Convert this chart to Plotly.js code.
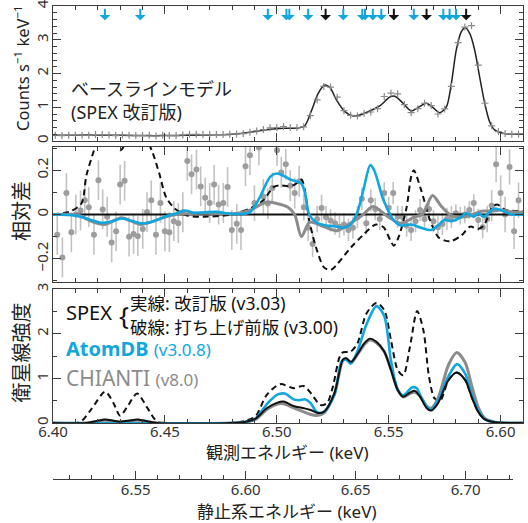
<!DOCTYPE html>
<html><head><meta charset="utf-8">
<script src="https://cdn.plot.ly/plotly-3.0.1.min.js"></script>
<style>html,body{margin:0;padding:0;background:#fff}#chart{width:528px;height:523px}</style>
</head><body><div id="chart"></div>
<script>
// ---------- DATA ----------
const redshift = 0.01756;
const obsTicks = [6.40, 6.45, 6.50, 6.55, 6.60];
const restTicks = [6.55, 6.60, 6.65, 6.70];

// Top panel: baseline model (SPEX revised)
const modelE = [6.400,6.410,6.420,6.430,6.440,6.450,6.460,6.470,6.480,6.490,6.497,6.503,6.510,6.5125,6.5155,6.5184,6.5214,6.5237,6.5267,6.5304,6.5341,6.5371,6.5415,6.5460,6.5504,6.5527,6.5564,6.5601,6.5638,6.5668,6.5698,6.5728,6.5758,6.5780,6.5802,6.5824,6.5842,6.5862,6.5884,6.5906,6.5929,6.5951,6.5973,6.6010,6.6050,6.6100];
const modelC = [0.17,0.17,0.18,0.17,0.16,0.16,0.17,0.18,0.20,0.28,0.35,0.38,0.39,0.45,0.90,1.40,1.66,1.59,1.21,0.87,0.74,0.77,0.89,1.04,1.30,1.33,1.12,0.89,1.02,1.12,0.99,0.84,1.02,1.71,2.70,3.24,3.36,3.19,2.70,1.91,1.12,0.57,0.33,0.23,0.20,0.20];
const dataE = [6.401,6.404,6.407,6.410,6.413,6.416,6.419,6.422,6.425,6.428,6.431,6.434,6.437,6.440,6.443,6.446,6.449,6.452,6.455,6.458,6.461,6.464,6.467,6.470,6.473,6.476,6.479,6.482,6.485,6.488,6.491,6.494,6.497,6.500,6.503,6.506,6.509,6.512,6.515,6.518,6.521,6.524,6.527,6.530,6.533,6.536,6.539,6.542,6.545,6.548,6.551,6.554,6.557,6.560,6.563,6.566,6.569,6.572,6.575,6.578,6.581,6.584,6.587,6.590,6.593,6.596,6.599,6.602,6.605,6.608];
const dataC = [0.17,0.16,0.17,0.17,0.17,0.17,0.19,0.19,0.18,0.16,0.18,0.17,0.16,0.16,0.17,0.15,0.17,0.16,0.16,0.18,0.20,0.20,0.19,0.19,0.19,0.19,0.20,0.21,0.22,0.26,0.30,0.34,0.39,0.40,0.43,0.40,0.40,0.42,0.75,1.22,1.62,1.60,1.30,0.90,0.76,0.74,0.82,0.86,0.96,1.32,1.42,1.40,1.08,0.84,0.96,1.12,1.05,0.80,0.95,1.62,2.92,3.38,3.42,2.25,1.12,0.45,0.28,0.22,0.20,0.21];

// Line positions (arrows)
const lineE_atomdb = [6.4232,6.4390,6.4960,6.5043,6.5056,6.5140,6.5297,6.5382,6.5394,6.5429,6.5467,6.5612,6.5744,6.5772,6.5801];
const lineE_spex = [6.5218,6.5523,6.5669,6.5846];

// Middle panel: relative residuals
const residE = [6.4019,6.4042,6.4060,6.4082,6.4102,6.4123,6.4142,6.4160,6.4183,6.4203,6.4222,6.4242,6.4262,6.4282,6.4300,6.4320,6.4340,6.4360,6.4379,6.4401,6.4420,6.4439,6.4460,6.4480,6.4500,6.4520,6.4540,6.4560,6.4580,6.4600,6.4619,6.4641,6.4660,6.4680,6.4700,6.4720,6.4740,6.4761,6.4780,6.4799,6.4821,6.4840,6.4860,6.4880,6.4900,6.4920,6.4940,6.4960,6.4980,6.5001,6.5020,6.5040,6.5060,6.5080,6.5100,6.5121,6.5140,6.5160,6.5180,6.5200,6.5220,6.5240,6.5260,6.5280,6.5300,6.5320,6.5340,6.5360,6.5380,6.5400,6.5420,6.5440,6.5460,6.5480,6.5500,6.5520,6.5540,6.5560,6.5580,6.5600,6.5620,6.5640,6.5660,6.5680,6.5700,6.5720,6.5740,6.5760,6.5780,6.5800,6.5820,6.5840,6.5860,6.5880,6.5900,6.5920,6.5940,6.5960,6.5980,6.6000,6.6020,6.6040,6.6060,6.6080];
const residV = [-0.092,-0.194,0.097,-0.080,0.000,0.018,0.064,0.033,-0.092,0.155,0.023,-0.010,-0.126,-0.076,0.135,0.152,-0.100,-0.088,-0.098,-0.065,0.011,0.064,-0.092,0.052,-0.076,-0.080,-0.030,-0.039,0.010,0.242,0.182,0.203,0.127,0.076,0.052,0.135,0.045,0.052,0.124,-0.070,-0.042,-0.070,0.218,0.268,0.052,0.303,0.080,0.050,0.120,0.290,0.190,0.227,0.130,0.097,0.150,0.033,-0.060,-0.133,-0.020,0.029,-0.012,-0.027,-0.040,-0.055,-0.045,-0.070,-0.060,-0.012,0.071,-0.040,0.064,0.025,-0.020,0.097,0.030,0.097,-0.010,-0.010,-0.050,-0.070,-0.030,0.020,-0.020,0.025,-0.030,-0.058,-0.043,-0.020,-0.012,0.006,-0.005,0.000,0.020,0.052,-0.025,-0.058,-0.020,0.040,0.227,0.097,0.000,0.215,-0.076,0.064];
const residErr = [0.09,0.09,0.09,0.09,0.09,0.09,0.09,0.09,0.09,0.09,0.09,0.09,0.09,0.09,0.09,0.09,0.09,0.09,0.09,0.09,0.09,0.09,0.09,0.09,0.09,0.09,0.09,0.09,0.09,0.09,0.09,0.09,0.09,0.09,0.09,0.09,0.09,0.09,0.09,0.09,0.09,0.09,0.09,0.09,0.08,0.08,0.08,0.07,0.07,0.07,0.07,0.07,0.07,0.07,0.07,0.06,0.06,0.06,0.06,0.06,0.05,0.05,0.05,0.05,0.05,0.05,0.05,0.05,0.05,0.05,0.05,0.05,0.05,0.05,0.05,0.05,0.05,0.05,0.05,0.05,0.05,0.05,0.05,0.05,0.05,0.05,0.05,0.05,0.05,0.04,0.04,0.04,0.04,0.04,0.05,0.05,0.06,0.07,0.08,0.08,0.08,0.08,0.08,0.08];

const resSpexNewE = [6.40, 6.61];
const resSpexNewV = [0, 0];
const resAtomE = [6.400,6.410,6.4155,6.4215,6.426,6.4305,6.435,6.440,6.445,6.450,6.455,6.459,6.463,6.468,6.473,6.480,6.488,6.4925,6.497,6.500,6.503,6.506,6.5085,6.511,6.5125,6.5145,6.5175,6.522,6.527,6.530,6.533,6.536,6.539,6.5417,6.5435,6.5477,6.5523,6.5553,6.560,6.5645,6.569,6.572,6.575,6.578,6.5823,6.5845,6.588,6.590,6.5925,6.597,6.600,6.605,6.610];
const resAtomV = [0,-0.005,-0.02,-0.038,-0.032,-0.018,-0.028,-0.04,-0.03,-0.01,0.005,0.018,0.008,0.01,0.012,0.003,0.01,0.08,0.17,0.185,0.175,0.158,0.15,0.14,0.10,0.0,-0.035,-0.05,-0.055,-0.06,-0.045,0.01,0.124,0.223,0.2,0.064,-0.027,-0.05,-0.045,-0.06,-0.07,-0.05,-0.024,-0.03,-0.012,0.006,-0.01,0.005,-0.01,0.026,0.02,0,0];
const resChiE = [6.400,6.4115,6.417,6.423,6.4305,6.435,6.439,6.445,6.450,6.455,6.462,6.472,6.482,6.488,6.4955,6.500,6.505,6.508,6.511,6.5147,6.521,6.527,6.5335,6.538,6.543,6.549,6.5555,6.5613,6.565,6.5696,6.5733,6.578,6.5845,6.5915,6.596,6.600,6.605,6.610];
const resChiV = [0,-0.003,-0.03,-0.045,-0.015,-0.03,-0.045,-0.03,-0.012,0.0,0.005,0.005,0.005,0.02,0.056,0.05,0.033,0.0,-0.1,-0.035,-0.055,-0.073,-0.035,-0.005,0.036,-0.005,-0.04,-0.012,0.0,0.086,0.04,-0.005,-0.01,0.015,0.015,0.02,0.012,0.01];
const resSpexOldE = [6.400,6.408,6.4127,6.415,6.4183,6.421,6.4235,6.427,6.4302,6.434,6.438,6.441,6.4445,6.4475,6.4505,6.4545,6.460,6.467,6.480,6.4877,6.494,6.4985,6.5015,6.505,6.508,6.511,6.5125,6.5145,6.5175,6.5212,6.5242,6.527,6.5332,6.539,6.5432,6.5445,6.5477,6.5508,6.5523,6.5545,6.558,6.560,6.5612,6.5645,6.5685,6.5722,6.5752,6.578,6.5825,6.5863,6.590,6.5925,6.5962,6.5985,6.6022,6.610];
const resSpexOldV = [0,0.015,0.05,0.18,0.29,0.38,0.42,0.36,0.29,0.36,0.42,0.36,0.28,0.185,0.079,0.026,-0.005,-0.01,0,0.026,0.064,0.124,0.132,0.128,0.135,0.158,0.11,-0.027,-0.148,-0.24,-0.25,-0.224,-0.148,-0.088,-0.05,-0.045,-0.058,-0.118,-0.141,-0.1,0.033,0.17,0.2,0.11,-0.027,-0.103,-0.118,-0.12,-0.095,-0.055,-0.065,-0.05,0.033,0.045,0.021,0.015];

// Bottom panel: satellite line intensity
const satSpexNewE = [6.400,6.415,6.419,6.4233,6.427,6.430,6.434,6.4376,6.442,6.4465,6.480,6.486,6.4905,6.4955,6.500,6.503,6.5075,6.5122,6.5152,6.518,6.521,6.5257,6.5295,6.531,6.5332,6.5362,6.539,6.5415,6.5445,6.548,6.551,6.554,6.5565,6.5595,6.5617,6.564,6.567,6.569,6.572,6.5767,6.5804,6.5842,6.587,6.590,6.593,6.5975,6.610];
const satSpexNewV = [0,0.0,0.04,0.08,0.05,0.03,0.05,0.08,0.04,0.0,0.0,0.03,0.1,0.33,0.45,0.48,0.38,0.33,0.29,0.23,0.25,0.66,1.42,1.45,1.37,1.56,1.78,1.89,1.82,1.6,1.19,0.74,0.59,0.68,0.72,0.59,0.33,0.28,0.44,0.96,1.13,0.96,0.59,0.25,0.08,0.015,0];
const satChiE = [6.400,6.415,6.4233,6.430,6.4376,6.4465,6.480,6.486,6.4905,6.4955,6.500,6.503,6.507,6.512,6.5152,6.518,6.521,6.5257,6.5295,6.531,6.5332,6.5362,6.539,6.5415,6.5445,6.548,6.551,6.554,6.5565,6.5595,6.5617,6.564,6.567,6.569,6.572,6.5767,6.5804,6.5842,6.587,6.590,6.593,6.5975,6.610];
const satChiV = [0,0,0.06,0.02,0.06,0,0,0.02,0.08,0.3,0.42,0.43,0.35,0.25,0.19,0.17,0.22,0.65,1.40,1.44,1.35,1.55,1.75,1.86,1.80,1.6,1.2,0.75,0.58,0.66,0.69,0.6,0.38,0.33,0.55,1.3,1.58,1.35,0.85,0.35,0.1,0.02,0];
const satAtomE = [6.400,6.480,6.486,6.4905,6.4955,6.500,6.5035,6.5075,6.510,6.5125,6.515,6.518,6.521,6.5257,6.529,6.531,6.533,6.536,6.540,6.5445,6.548,6.551,6.554,6.5565,6.5605,6.5625,6.564,6.567,6.569,6.572,6.5767,6.5805,6.5842,6.587,6.590,6.593,6.5975,6.610];
const satAtomV = [0,0,0.02,0.1,0.42,0.63,0.66,0.53,0.51,0.53,0.45,0.24,0.25,0.62,1.38,1.42,1.33,1.6,2.2,2.62,2.4,1.4,0.75,0.62,0.8,0.78,0.63,0.36,0.3,0.5,1.05,1.32,1.1,0.66,0.28,0.08,0.015,0];
const satSpexOldE = [6.400,6.412,6.417,6.4233,6.427,6.430,6.433,6.4376,6.442,6.4465,6.450,6.480,6.486,6.4905,6.4955,6.5015,6.5075,6.512,6.5155,6.5196,6.5225,6.525,6.529,6.533,6.536,6.540,6.5445,6.548,6.551,6.554,6.5565,6.5595,6.5627,6.5655,6.568,6.5705,6.573,6.5767,6.5804,6.5842,6.587,6.590,6.593,6.5975,6.610];
const satSpexOldV = [0,0.02,0.3,0.7,0.45,0.16,0.35,0.66,0.35,0.03,0,0,0.05,0.15,0.63,0.87,0.78,0.83,0.65,0.4,0.45,0.8,1.57,1.6,1.78,2.45,2.69,2.53,1.86,1.19,1.07,1.71,2.51,2.08,1.04,0.55,0.5,0.96,1.13,0.96,0.59,0.25,0.08,0.015,0];

// ---------- STYLE ----------
const FONT = 'Noto Sans, Noto Sans CJK JP, sans-serif';
const AX = '#3c3c3c';
const CYAN = '#11a6de';
const GRAY = '#8c8c8c';
const X0 = 6.40, X1 = 6.61;
const restFrac = 0.979;

const traces = [
  {x: modelE, y: modelC, xaxis:'x', yaxis:'y', mode:'lines', line:{color:'#222', width:1.5, shape:'spline', smoothing:0.8}, hoverinfo:'skip'},
  {x: dataE, y: dataC, xaxis:'x', yaxis:'y', mode:'markers', marker:{symbol:'cross-thin', size:5, line:{width:1.2, color:'#8a8a8a'}, color:'#8a8a8a'}, hoverinfo:'skip'},
  {x: residE, y: residV, xaxis:'x2', yaxis:'y2', mode:'markers', marker:{size:6, color:'#9d9d9d'}, error_y:{type:'data', array: residErr, color:'#c2c2c2', thickness:1.6, width:0}, hoverinfo:'skip'},
  {x: resSpexNewE, y: resSpexNewV, xaxis:'x2', yaxis:'y2', mode:'lines', line:{color:'#111', width:2}, hoverinfo:'skip'},
  {x: resSpexOldE, y: resSpexOldV, xaxis:'x2', yaxis:'y2', mode:'lines', line:{color:'#111', width:2, dash:'6px,4px', shape:'spline', smoothing:0.8}, hoverinfo:'skip'},
  {x: resChiE, y: resChiV, xaxis:'x2', yaxis:'y2', mode:'lines', line:{color:GRAY, width:3, shape:'spline', smoothing:0.8}, hoverinfo:'skip'},
  {x: resAtomE, y: resAtomV, xaxis:'x2', yaxis:'y2', mode:'lines', line:{color:CYAN, width:2.6, shape:'spline', smoothing:0.8}, hoverinfo:'skip'},
  {x: satSpexOldE, y: satSpexOldV, xaxis:'x3', yaxis:'y3', mode:'lines', line:{color:'#111', width:2, dash:'6px,4px', shape:'spline', smoothing:0.8}, hoverinfo:'skip'},
  {x: satChiE, y: satChiV, xaxis:'x3', yaxis:'y3', mode:'lines', line:{color:GRAY, width:3, shape:'spline', smoothing:0.8}, hoverinfo:'skip'},
  {x: satAtomE, y: satAtomV, xaxis:'x3', yaxis:'y3', mode:'lines', line:{color:CYAN, width:2.6, shape:'spline', smoothing:0.8}, hoverinfo:'skip'},
  {x: satSpexNewE, y: satSpexNewV, xaxis:'x3', yaxis:'y3', mode:'lines', line:{color:'#111', width:2, shape:'spline', smoothing:0.8}, hoverinfo:'skip'},
  {x: [], y: [], xaxis:'x4', yaxis:'y4', mode:'lines', hoverinfo:'skip'}
];

function xax(anchor, labels, extra) {
  return Object.assign({
    anchor: anchor, range:[X0, X1], showline:true, linecolor:AX, linewidth:1, mirror:'ticks',
    ticks:'inside', ticklen:8, tickwidth:1, tickcolor:AX, tick0:6.40, dtick:0.05,
    minor:{dtick:0.01, ticks:'inside', ticklen:4, tickwidth:1, tickcolor:AX},
    showgrid:false, zeroline:false, showticklabels:labels, tickformat:'.2f', ticklabeloverflow:'allow',
    tickfont:{family:FONT, size:15, color:'#333'}
  }, extra || {});
}
function yax(anchor, domain, range, dtick, mdtick, extra) {
  return Object.assign({
    anchor: anchor, domain: domain, range: range, showline:true, linecolor:AX, linewidth:1, mirror:'ticks',
    ticks:'inside', ticklen:8, tickwidth:1, tickcolor:AX, dtick:dtick, tick0:0,
    minor:{dtick:mdtick, ticks:'inside', ticklen:4, tickwidth:1, tickcolor:AX},
    showgrid:false, zeroline:false, tickangle:-90, ticklabelstandoff:-2, ticklabeloverflow:'allow',
    tickfont:{family:FONT, size:15, color:'#333'}
  }, extra || {});
}

const annotations = [];
lineE_atomdb.forEach(e => annotations.push({x:e, y:3.58, xref:'x', yref:'y', text:'', showarrow:true, ax:0, ay:-13, arrowhead:1, arrowsize:0.9, arrowwidth:2, arrowcolor:CYAN}));
lineE_spex.forEach(e => annotations.push({x:e, y:3.58, xref:'x', yref:'y', text:'', showarrow:true, ax:0, ay:-13, arrowhead:1, arrowsize:0.9, arrowwidth:2, arrowcolor:'#111'}));
annotations.push(
  {x:-0.066, y:0.869, xref:'paper', yref:'paper', xanchor:'center', yanchor:'middle', textangle:-90, showarrow:false,
   text:'Counts s<sup>−1</sup> keV<sup>−1</sup>', font:{family:FONT, size:16.5, color:'#222'}},
  {x:-0.066, y:0.5666, xref:'paper', yref:'paper', xanchor:'center', yanchor:'middle', textangle:-90, showarrow:false,
   text:'相対差', font:{family:FONT, size:20, color:'#222'}},
  {x:-0.066, y:0.2674, xref:'paper', yref:'paper', xanchor:'center', yanchor:'middle', textangle:-90, showarrow:false,
   text:'衛星線強度', font:{family:FONT, size:20, color:'#222'}},
  {x:0.498, y:0.055, xref:'paper', yref:'paper', xanchor:'center', yanchor:'middle', showarrow:false,
   text:'観測エネルギー (keV)', font:{family:FONT, size:17, color:'#222'}},
  {x:0.498, y:-0.068, xref:'paper', yref:'paper', xanchor:'center', yanchor:'middle', showarrow:false,
   text:'静止系エネルギー (keV)', font:{family:FONT, size:17, color:'#222'}},
  {x:6.4071, y:1.21, xref:'x', yref:'y', xanchor:'left', yanchor:'middle', align:'left', showarrow:false,
   text:'ベースラインモデル<br>(SPEX 改訂版)', font:{family:FONT, size:18, color:'#222'}},
  {x:6.4049, y:2.48, xref:'x3', yref:'y3', xanchor:'left', yanchor:'middle', showarrow:false,
   text:'SPEX', font:{family:FONT, size:20, color:'#111'}},
  {x:6.4286, y:2.43, xref:'x3', yref:'y3', xanchor:'left', yanchor:'middle', showarrow:false,
   text:'{', font:{family:FONT, size:26, color:'#111'}},
  {x:6.4335, y:2.68, xref:'x3', yref:'y3', xanchor:'left', yanchor:'middle', showarrow:false,
   text:'実線: 改訂版 (v3.03)', font:{family:FONT, size:17.5, color:'#111'}},
  {x:6.4335, y:2.15, xref:'x3', yref:'y3', xanchor:'left', yanchor:'middle', showarrow:false,
   text:'破線: 打ち上げ前版 (v3.00)', font:{family:FONT, size:17.5, color:'#111'}},
  {x:6.4049, y:1.68, xref:'x3', yref:'y3', xanchor:'left', yanchor:'middle', showarrow:false,
   text:'<b>AtomDB</b> <span style="font-size:17px">(v3.0.8)</span>', font:{family:FONT, size:20, color:CYAN}},
  {x:6.4049, y:1.0, xref:'x3', yref:'y3', xanchor:'left', yanchor:'middle', showarrow:false,
   text:'CHIANTI <span style="font-size:17px">(v8.0)</span>', font:{family:FONT, size:21, color:GRAY}}
);

const z1 = 1 + redshift;
const layout = {
  width:528, height:523, margin:{l:53, r:5, t:6, b:44},
  paper_bgcolor:'#fff', plot_bgcolor:'#fff', showlegend:false,
  font:{family:FONT, color:'#222'},
  xaxis: xax('y', false),
  xaxis2: xax('y2', false),
  xaxis3: xax('y3', true, {tickvals: obsTicks, ticklabelstandoff:-5}),
  xaxis4: {anchor:'y4', domain:[0, restFrac], range:[X0*z1, (X0 + (X1-X0)*restFrac)*z1],
    showline:true, linecolor:AX, linewidth:1, ticks:'inside', ticklen:8, tickwidth:1, tickcolor:AX,
    tickvals: restTicks, ticktext: restTicks.map(v => v.toFixed(2)), ticklabelstandoff:-3, ticklabeloverflow:'allow',
    minor:{dtick:0.01, tick0:6.50, ticks:'inside', ticklen:4, tickwidth:1, tickcolor:AX},
    showgrid:false, zeroline:false, tickfont:{family:FONT, size:15, color:'#333'}},
  yaxis: yax('x', [0.7146, 1], [0, 4.004], 1, 0.2),
  yaxis2: yax('x2', [0.4165, 0.7019], [-0.305, 0.305], 0.2, 0.1),
  yaxis3: yax('x3', [0.1184, 0.4017], [0, 3.003], 1, 0.5),
  yaxis4: {anchor:'x4', domain:[0, 0.001], visible:false, range:[0,1]},
  annotations: annotations
};

Plotly.newPlot('chart', traces, layout, {displayModeBar:false, staticPlot:true});
</script>
</body></html>
